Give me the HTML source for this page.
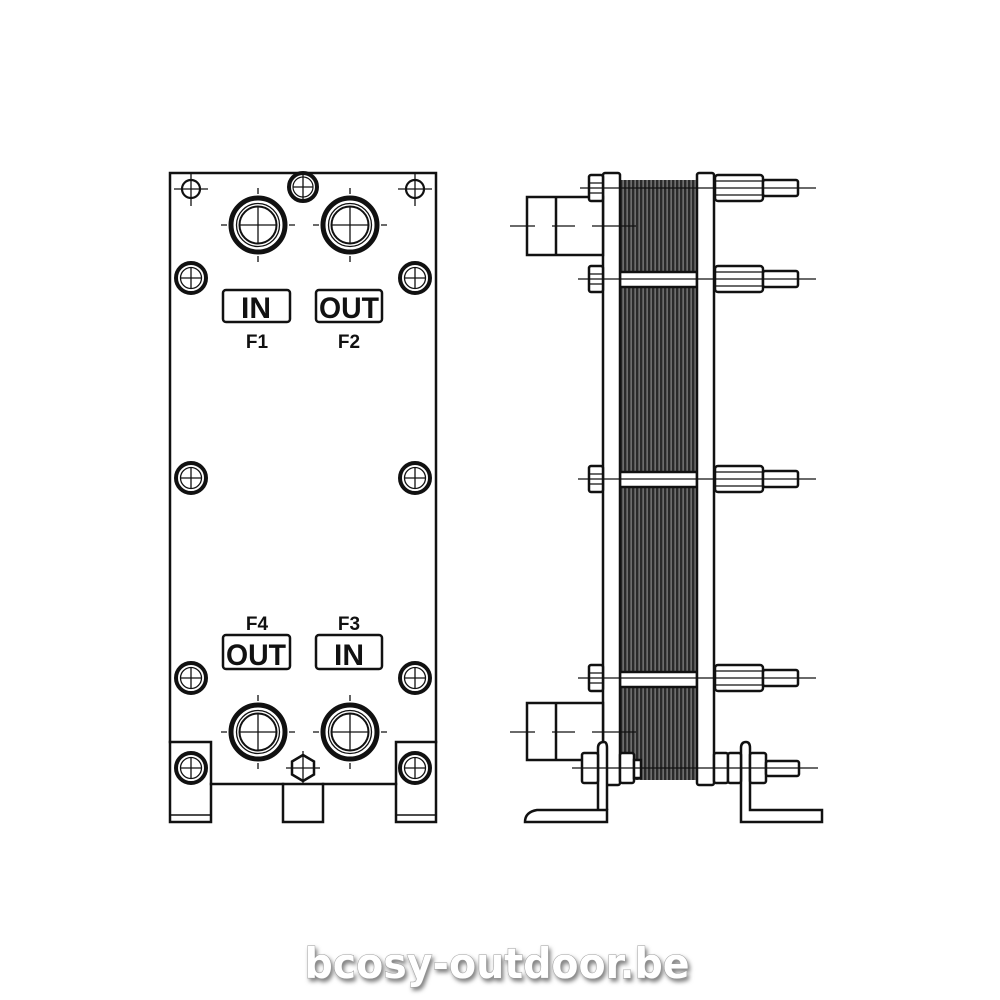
<!DOCTYPE html>
<html><head><meta charset="utf-8"><style>html,body{margin:0;padding:0;background:#fff}svg{display:block}</style></head>
<body>
<svg width="1000" height="1000" viewBox="0 0 1000 1000" xmlns="http://www.w3.org/2000/svg">
<defs>
<pattern id="st" x="620" y="0" width="4" height="10" patternUnits="userSpaceOnUse">
<rect width="4" height="10" fill="#2a2a2a"/><rect x="2.6" width="1" height="10" fill="#9a9a9a"/>
</pattern>
<g id="bolt"><circle r="15" fill="none" stroke="#111" stroke-width="4"/><circle r="10.5" fill="none" stroke="#111" stroke-width="1.3"/><path d="M-10 0H10M0 -10V10" stroke="#111" stroke-width="1.3"/></g>
<g id="port"><circle r="27" fill="none" stroke="#111" stroke-width="5"/><circle r="21.5" fill="none" stroke="#111" stroke-width="1.3"/><circle r="18.5" fill="none" stroke="#111" stroke-width="2"/><path d="M-18 0H18M0 -18V18" stroke="#111" stroke-width="1.3"/><path d="M-37 0H-31M31 0H37M0 -37V-31M0 31V37" stroke="#111" stroke-width="1.3"/></g>
<g id="hole"><circle r="9" fill="none" stroke="#111" stroke-width="2.2"/><path d="M-17 0H17M0 -17V17" stroke="#111" stroke-width="1.3"/></g>
<g id="rbolt" fill="#fff" stroke="#111" stroke-width="2.5">
<rect x="589" y="-13" width="14" height="26" rx="2"/><path d="M589 -5H603M589 5H603" stroke-width="1.2"/>
<rect x="715" y="-13" width="48" height="26" rx="3"/><path d="M715 -7H763M715 7H763" stroke-width="1.2"/>
<rect x="763" y="-8" width="35" height="16" rx="2"/>
</g>
</defs>
<g stroke="#111" fill="none" stroke-linecap="square">
<path d="M170 173H436V742M170 173V742" stroke-width="2.5"/>
<path d="M211 784H283M323 784H396" stroke-width="2.5"/>
<rect x="170" y="742" width="41" height="80" stroke-width="2.5"/>
<path d="M170 815H211" stroke-width="1.5"/>
<rect x="396" y="742" width="40" height="80" stroke-width="2.5"/>
<path d="M396 815H436" stroke-width="1.5"/>
<rect x="283" y="784" width="40" height="38" stroke-width="2.5"/>
</g>
<use href="#hole" x="191" y="189"/><use href="#hole" x="415" y="189"/>
<g transform="translate(303,187)"><circle r="14" fill="none" stroke="#111" stroke-width="4"/><circle r="10" fill="none" stroke="#111" stroke-width="1.2"/><path d="M-10 0H10M0 -14V14" stroke="#111" stroke-width="1.3"/></g>
<use href="#port" x="258" y="225"/><use href="#port" x="350" y="225"/>
<use href="#port" x="258" y="732"/><use href="#port" x="350" y="732"/>
<use href="#bolt" x="191" y="278"/><use href="#bolt" x="415" y="278"/>
<use href="#bolt" x="191" y="478"/><use href="#bolt" x="415" y="478"/>
<use href="#bolt" x="191" y="678"/><use href="#bolt" x="415" y="678"/>
<use href="#bolt" x="191" y="768"/><use href="#bolt" x="415" y="768"/>
<g transform="translate(303,768)"><polygon points="0,-13 11,-6.5 11,6.5 0,13 -11,6.5 -11,-6.5" fill="#fff" stroke="#111" stroke-width="2.5"/><path d="M-17 0H17M0 -17V17" stroke="#111" stroke-width="1.3"/></g>
<g font-family="Liberation Sans, sans-serif" font-weight="bold" text-anchor="middle" fill="#111">
<rect x="223" y="290" width="67" height="32" rx="3" fill="none" stroke="#111" stroke-width="2.5"/>
<rect x="316" y="290" width="66" height="32" rx="3" fill="none" stroke="#111" stroke-width="2.5"/>
<text x="256" y="318" font-size="30" textLength="30" lengthAdjust="spacingAndGlyphs">IN</text>
<text x="349" y="318" font-size="30" textLength="60" lengthAdjust="spacingAndGlyphs">OUT</text>
<text x="257" y="348" font-size="19">F1</text>
<text x="349" y="348" font-size="19">F2</text>
<text x="257" y="630" font-size="19">F4</text>
<text x="349" y="630" font-size="19">F3</text>
<rect x="223" y="635" width="67" height="34" rx="3" fill="none" stroke="#111" stroke-width="2.5"/>
<rect x="316" y="635" width="66" height="34" rx="3" fill="none" stroke="#111" stroke-width="2.5"/>
<text x="256" y="665" font-size="30" textLength="60" lengthAdjust="spacingAndGlyphs">OUT</text>
<text x="349" y="665" font-size="30" textLength="30" lengthAdjust="spacingAndGlyphs">IN</text>
</g>
<rect x="620" y="180" width="77" height="600" fill="url(#st)"/>
<g fill="#fff" stroke="#111" stroke-width="2.5">
<rect x="620" y="272" width="77" height="15"/><rect x="620" y="472" width="77" height="15"/><rect x="620" y="672" width="77" height="15"/>
<rect x="603" y="173" width="17" height="612" rx="2"/>
<rect x="697" y="173" width="17" height="612" rx="2"/>
<rect x="527" y="197" width="76" height="58"/>
<rect x="527" y="703" width="76" height="57"/>
</g>
<path d="M556 197V255M556 703V760" stroke="#111" stroke-width="2.5"/>
<g transform="translate(0,188)"><use href="#rbolt"/></g>
<g transform="translate(0,279)"><use href="#rbolt"/></g>
<g transform="translate(0,479)"><use href="#rbolt"/></g>
<g transform="translate(0,678)"><use href="#rbolt"/></g>
<g fill="#fff" stroke="#111" stroke-width="2.5">
<path d="M598 822V748Q598 742 604 742Q607 742 607 748V810"/>
<path d="M525 822H607V810H537Q525 812 525 822Z"/>
<path d="M741 822V748Q741 742 746 742Q750 742 750 748V810H822V822Z"/>
<rect x="582" y="753" width="16" height="30" rx="2"/>
<rect x="620" y="753" width="14" height="30" rx="2"/><rect x="634" y="760" width="7" height="18"/>
<rect x="714" y="753" width="14" height="30" rx="2"/><rect x="728" y="753" width="13" height="30" rx="2"/>
<rect x="750" y="753" width="16" height="30" rx="2"/><rect x="766" y="761" width="33" height="15" rx="2"/>
</g>
<g stroke="#111" stroke-width="1.2">
<path d="M580 188H816M578 279H816M578 479H816M578 678H816M572 768H818"/>
<path d="M510 226H535M552 226H575M592 226H636M510 732H535M552 732H575M592 732H636"/>
</g>
<text x="497" y="978" text-anchor="middle" font-family="DejaVu Sans, sans-serif" font-weight="bold" font-size="42" fill="#fff" stroke="#999" stroke-width="1" textLength="385" lengthAdjust="spacingAndGlyphs" style="paint-order:stroke;filter:drop-shadow(2px 3px 2px rgba(0,0,0,0.5))">bcosy-outdoor.be</text>
</svg>
</body></html>
